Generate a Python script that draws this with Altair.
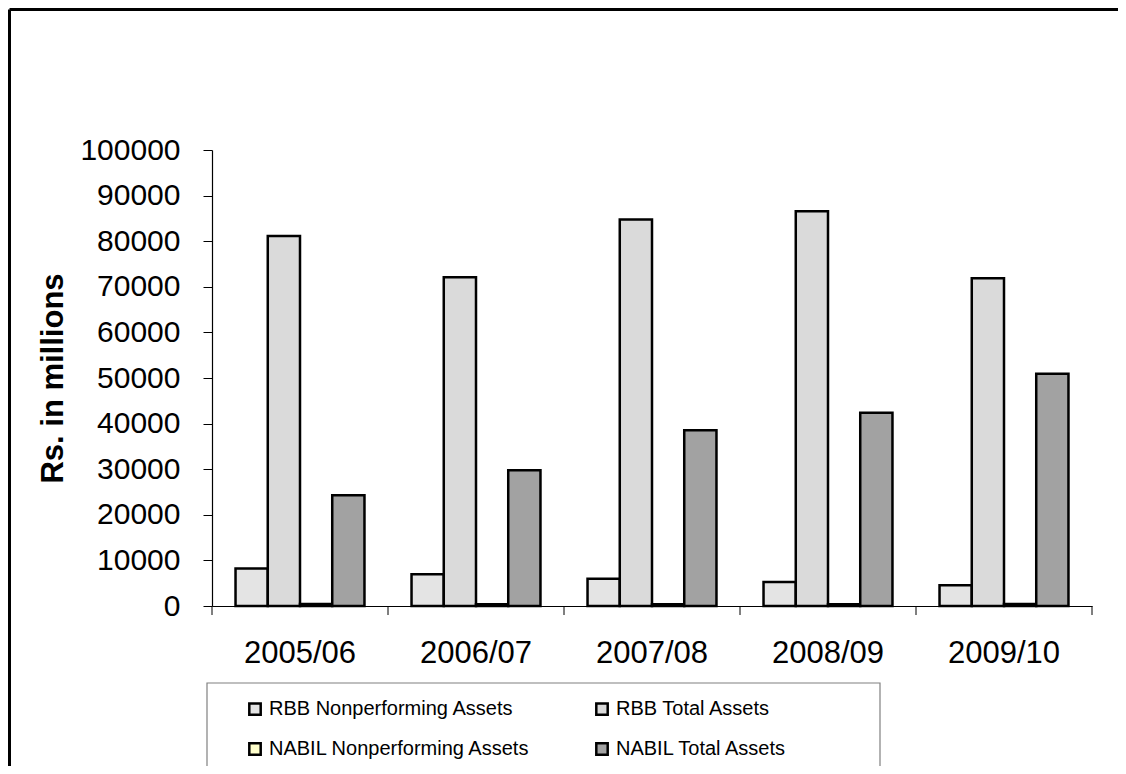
import altair as alt
import pandas as pd

years = ["2005/06", "2006/07", "2007/08", "2008/09", "2009/10"]
series = ["RBB Nonperforming Assets", "RBB Total Assets",
          "NABIL Nonperforming Assets", "NABIL Total Assets"]
legend_order = ["RBB Nonperforming Assets", "NABIL Nonperforming Assets",
                "RBB Total Assets", "NABIL Total Assets"]
rbb_npa = [8200, 6950, 6000, 5250, 4540]
rbb_total = [81150, 72100, 84750, 86550, 71850]
nabil_npa = [450, 400, 380, 380, 420]
nabil_total = [24300, 29750, 38550, 42400, 50950]
fill_of = {"RBB Nonperforming Assets": "#e4e4e4", "RBB Total Assets": "#dadada",
           "NABIL Nonperforming Assets": "#ffffcc", "NABIL Total Assets": "#a2a2a2"}
y_ticks = [0, 10000, 20000, 30000, 40000, 50000, 60000, 70000, 80000, 90000, 100000]

rows = []
for i, yr in enumerate(years):
    for s, vals in zip(series, [rbb_npa, rbb_total, nabil_npa, nabil_total]):
        rows.append({"year": yr, "series": s, "value": vals[i]})
df = pd.DataFrame(rows)

FONT = "Liberation Sans"
W, H = 880, 456

xenc = alt.X("year:N", sort=years, title=None,
             scale=alt.Scale(paddingInner=0, paddingOuter=0),
             axis=alt.Axis(labelFontSize=31, labelFont=FONT, labelColor="black",
                           labelAngle=0, ticks=False, tickSize=0, labelPadding=32,
                           domainColor="black", domainWidth=1.2))

bars = alt.Chart(df).mark_bar(stroke="black", strokeWidth=2.5).encode(
    x=xenc,
    xOffset=alt.XOffset("series:N", sort=series,
                        scale=alt.Scale(paddingInner=0, paddingOuter=0.73)),
    y=alt.Y("value:Q", title="Rs. in millions",
            scale=alt.Scale(domain=[0, 100000], nice=False),
            axis=alt.Axis(values=y_ticks, format="d", labelFontSize=30, labelFont=FONT,
                          labelColor="black", tickSize=9, labelPadding=23,
                          tickColor="black", domainColor="black", domainWidth=1.2,
                          grid=False, titleFont=FONT, titleFontSize=31,
                          titleFontWeight="bold", titleColor="black", titlePadding=10)),
    fill=alt.Fill("series:N",
                  scale=alt.Scale(domain=legend_order,
                                  range=[fill_of[s] for s in legend_order]),
                  legend=alt.Legend(title=None, orient="none", legendX=33, legendY=549,
                                    columns=2, columnPadding=60, rowPadding=18,
                                    symbolType="square", symbolSize=130,
                                    symbolStrokeColor="black", symbolStrokeWidth=2.5,
                                    symbolOpacity=1, labelFontSize=20, labelFont=FONT,
                                    labelColor="black", labelOffset=4, labelLimit=400)),
)

ticks_df = pd.DataFrame({"year": years})
xticks = alt.Chart(ticks_df).mark_rule(color="black", strokeWidth=1).encode(
    x=alt.X("year:N", sort=years, bandPosition=0),
    y=alt.value(H), y2=alt.value(H + 9))
xtick_end = alt.Chart(ticks_df).transform_filter(
    alt.datum.year == years[-1]).mark_rule(color="black", strokeWidth=1).encode(
    x=alt.X("year:N", sort=years, bandPosition=1),
    y=alt.value(H), y2=alt.value(H + 9))

one = alt.Data(values=[{"k": 1}])
frame_left = alt.Chart(one).mark_rule(color="black", strokeWidth=3).encode(
    x=alt.value(-202.5), y=alt.value(-140.5), y2=alt.value(700))
frame_top = alt.Chart(one).mark_rule(color="black", strokeWidth=3).encode(
    x=alt.value(-202.5), x2=alt.value(1000), y=alt.value(-140.5))
legend_box = alt.Chart(one).mark_rect(fill=None, stroke="#808080", strokeWidth=1.2).encode(
    x=alt.value(-5), x2=alt.value(668), y=alt.value(533), y2=alt.value(621))

chart = alt.layer(bars, xticks, xtick_end, legend_box, frame_left, frame_top).properties(
    width=W, height=H,
    autosize=alt.AutoSizeParams(type="none"),
    padding={"left": 204, "top": 142, "right": 26, "bottom": 160},
).configure(background="white").configure_view(strokeWidth=0, stroke="transparent")

chart.save("out.html", embed_options={"renderer": "svg", "actions": False})
